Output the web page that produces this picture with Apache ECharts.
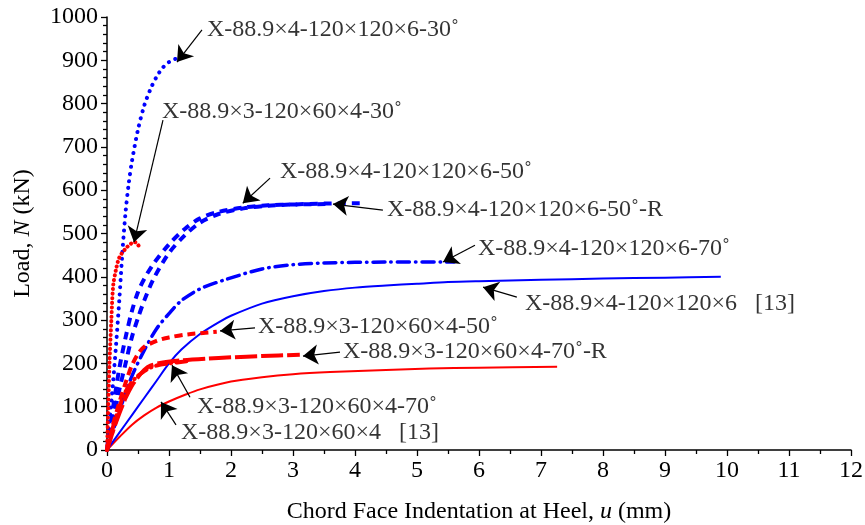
<!DOCTYPE html>
<html><head><meta charset="utf-8">
<script src="https://cdn.jsdelivr.net/npm/echarts@6/dist/echarts.min.js"></script>
<style>html,body{margin:0;padding:0;background:#fff}#c{width:865px;height:525px}</style>
</head><body><div id="c"></div>
<script>
// Data (u in mm, N in kN)
const s30_4 = [[0,0],[0.05,80],[0.1,160],[0.15,250],[0.2,350],[0.25,460],[0.3,550],[0.35,615],[0.4,665],[0.5,740],[0.6,795],[0.7,833],[0.8,862],[0.9,883],[1.0,896],[1.1,903],[1.2,907],[1.32,908]];
const s30_3 = [[0,0],[0.02,100],[0.04,200],[0.07,300],[0.1,380],[0.15,420],[0.2,445],[0.3,465],[0.4,478],[0.45,480],[0.5,474],[0.53,466]];
const s50_4 = [[0,0],[0.1,100],[0.2,190],[0.3,260],[0.4,320],[0.5,365],[0.6,395],[0.75,430],[1.0,475],[1.25,510],[1.5,535],[1.8,550],[2.2,560],[2.6,565],[3.0,567],[3.6,568]];
const s50_4R = [[0,0],[0.1,70],[0.2,140],[0.3,200],[0.4,260],[0.5,305],[0.6,345],[0.75,395],[1.0,455],[1.25,495],[1.5,525],[1.8,545],[2.2,558],[2.6,564],[3.0,567],[3.5,569],[4.15,570]];
const s70_4 = [[0,0],[0.2,90],[0.4,170],[0.6,230],[0.8,280],[1.0,315],[1.2,345],[1.5,372],[1.9,393],[2.5,418],[3.0,428],[3.5,432],[4.5,434],[5.6,434]];
const sRef_4 = [[0,0],[0.2,40],[0.4,80],[0.6,120],[0.8,160],[1.0,200],[1.2,232],[1.5,268],[1.8,295],[2.0,310],[2.5,338],[3.0,355],[3.5,367],[4.0,375],[4.5,380],[5.0,384],[5.5,388],[6,390],[7,393],[8,396],[9,398],[9.9,400]];
const s50_3 = [[0,0],[0.1,60],[0.2,110],[0.3,155],[0.4,195],[0.5,222],[0.6,238],[0.8,252],[1.0,260],[1.3,267],[1.77,273]];
const s70_3 = [[0,0],[0.1,55],[0.2,100],[0.3,135],[0.45,165],[0.6,182],[0.7,190],[0.8,195],[1.0,200],[1.3,205]];
const s70_3R = [[0,0],[0.1,45],[0.2,85],[0.3,120],[0.4,148],[0.5,168],[0.6,185],[0.7,195],[0.9,202],[1.2,207],[1.6,211],[2.0,214],[2.5,217],[3.11,220]];
const sRef_3 = [[0,0],[0.2,30],[0.4,58],[0.6,80],[0.8,98],[1.0,112],[1.25,127],[1.5,140],[2.0,158],[2.5,168],[3,175],[3.6,180],[4.5,185],[5.2,188],[6,190],[7.26,192]];

// Annotation labels: [x, y, text] and arrows [[fromX, fromY],[toX, toY]]
const labels = [
  [1.613, 970, 'X-88.9×4-120×120×6-30˚'],
  [0.887, 781, 'X-88.9×3-120×60×4-30˚'],
  [2.79, 642, 'X-88.9×4-120×120×6-50˚'],
  [4.516, 554, 'X-88.9×4-120×120×6-50˚-R'],
  [5.984, 466, 'X-88.9×4-120×120×6-70˚'],
  [6.742, 339, 'X-88.9×4-120×120×6   [13]'],
  [2.435, 284, 'X-88.9×3-120×60×4-50˚'],
  [3.806, 226, 'X-88.9×3-120×60×4-70˚-R'],
  [1.452, 99, 'X-88.9×3-120×60×4-70˚'],
  [1.194, 39, 'X-88.9×3-120×60×4   [13]']
];
const arrows = [
  [[1.532, 970], [1.129, 896]],
  [[0.903, 762], [0.435, 480]],
  [[2.63, 628], [2.19, 570]],
  [[4.45, 554], [3.645, 568]],
  [[5.935, 473], [5.42, 434]],
  [[6.61, 353], [6.065, 376]],
  [[2.387, 282], [1.823, 275]],
  [[3.758, 226], [3.161, 217]],
  [[1.339, 122], [1.048, 196]],
  [[1.113, 58], [0.871, 111]]
];

const FONT = 'Liberation Serif';
const FS = 24;
const BLUE = '#0000ff', RED = '#ff0000';
function ln(data, color, width, type, cap) {
  return {type:'line', data:data, showSymbol:false, symbol:'none', smooth:0.3, animation:false, silent:true,
    lineStyle:{color:color, width:width, type:type, cap:cap||'butt', join:'round'}};
}
const chart = echarts.init(document.getElementById('c'), null, {renderer:'canvas'});
chart.setOption({
  backgroundColor:'#fff',
  animation:false,
  grid:{left:107, right:14, top:17, bottom:75, containLabel:false, outerBoundsMode:'none'},
  xAxis:{type:'value', min:0, max:12, interval:1,
    name:'{a|Chord Face Indentation at Heel, }{i|u}{a| (mm)}', nameLocation:'middle', nameGap:50,
    nameTextStyle:{rich:{a:{fontFamily:FONT, fontSize:FS, color:'#000'}, i:{fontFamily:FONT, fontSize:FS, fontStyle:'italic', color:'#000'}}},
    axisLine:{lineStyle:{color:'#000', width:1.5}}, axisTick:{length:6, lineStyle:{color:'#000', width:1.3}},
    minorTick:{show:true, splitNumber:2, length:4, lineStyle:{color:'#000', width:1.3}},
    axisLabel:{fontFamily:FONT, fontSize:FS, color:'#000', margin:9},
    splitLine:{show:false}},
  yAxis:{type:'value', min:0, max:1000, interval:100,
    name:'{a|Load, }{i|N}{a| (kN)}', nameLocation:'middle', nameGap:72, nameRotate:90,
    nameTextStyle:{rich:{a:{fontFamily:FONT, fontSize:FS, color:'#000'}, i:{fontFamily:FONT, fontSize:FS, fontStyle:'italic', color:'#000'}}},
    axisLine:{show:true, lineStyle:{color:'#000', width:1.5}}, axisTick:{show:true, length:6, lineStyle:{color:'#000', width:1.3}},
    minorTick:{show:true, splitNumber:5, length:4, lineStyle:{color:'#000', width:1.3}},
    axisLabel:{fontFamily:FONT, fontSize:FS, color:'#000', margin:9, formatter:v=>String(v)},
    splitLine:{show:false}},
  series:[
    ln(sRef_3, RED, 2, 'solid'),
    ln(sRef_4, BLUE, 2, 'solid'),
    ln(s70_4, BLUE, 3.5, [12,6,0.5,6], 'round'),
    ln(s50_4, BLUE, 4, [8,6]),
    ln(s50_4R, BLUE, 4, [8,6]),
    ln(s30_4, BLUE, 4, [0.1,7], 'round'),
    ln(s50_3, RED, 4, [8,5]),
    ln(s70_3, RED, 4, [10,5,0.5,5], 'round'),
    ln(s70_3R, RED, 4, [22,4]),
    ln(s30_3, RED, 4, [0.1,4.5], 'round'),
    {type:'scatter', data:labels, symbolSize:0, silent:true, animation:false,
      label:{show:true, position:'right', distance:0, formatter:p=>p.value[2], fontFamily:FONT, fontSize:FS, color:'#000'}},
    {type:'line', data:[], silent:true, animation:false,
      markLine:{silent:true, animation:false, symbol:['none','arrow'], symbolSize:15, label:{show:false},
        lineStyle:{color:'#000', width:1.2, type:'solid'}, itemStyle:{color:'#000'}, emphasis:{disabled:true},
        data:arrows.map(a=>[{coord:a[0]},{coord:a[1]}])}}
  ]
});
</script></body></html>
